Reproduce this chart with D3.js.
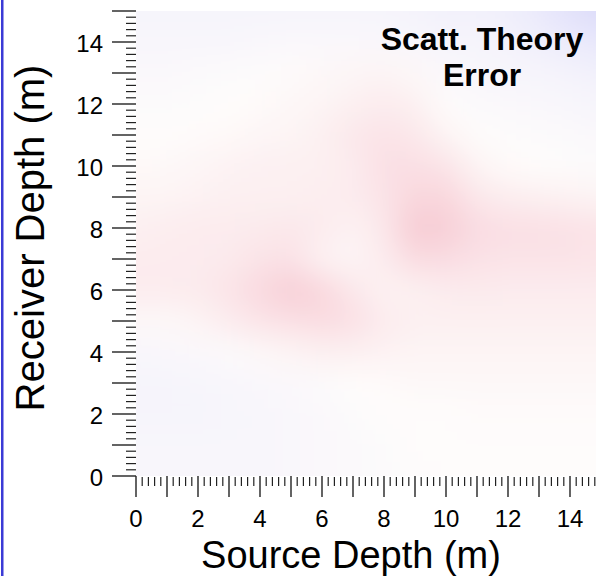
<!DOCTYPE html>
<html>
<head>
<meta charset="utf-8">
<script src="https://cdn.jsdelivr.net/npm/d3@7"></script>
<style>
  html, body { margin: 0; padding: 0; background: #fff; }
  svg { display: block; }
  text { font-family: "Liberation Sans", Arial, Helvetica, sans-serif; fill: #000; }
</style>
</head>
<body>
<script>
// grid centres, metres
var sourceDepths = [0, 1, 2, 3, 4, 5, 6, 7, 8, 9, 10, 11, 12, 13, 14, 15];
var receiverDepths = [15, 14, 13, 12, 11, 10, 9, 8, 7, 6, 5, 4, 3, 2, 1, 0];

// relative error, one row per receiver depth (top row first), <0 blue, >0 red
var errorRows = [
  [-0.2, -0.2, -0.2, -0.2, -0.2, -0.2, -0.2, -0.2, -0.2, -0.25, -0.3, -0.3, -0.35, -0.5, -0.7, -0.85],
  [-0.15, -0.15, -0.15, -0.15, -0.12, -0.1, -0.1, -0.1, -0.12, -0.15, -0.2, -0.2, -0.25, -0.35, -0.45, -0.55],
  [-0.1, -0.1, -0.08, -0.05, -0.02, 0.02, 0.05, 0.08, 0.1, 0.05, -0.1, -0.15, -0.18, -0.2, -0.25, -0.3],
  [-0.05, -0.05, -0.03, 0, 0.03, 0.06, 0.1, 0.15, 0.2, 0.15, 0, -0.08, -0.1, -0.12, -0.15, -0.2],
  [0, 0, 0.02, 0.04, 0.08, 0.1, 0.15, 0.25, 0.3, 0.25, 0.1, 0, -0.03, -0.05, -0.08, -0.1],
  [0.04, 0.05, 0.08, 0.12, 0.14, 0.15, 0.15, 0.2, 0.35, 0.35, 0.3, 0.1, 0.03, 0, -0.02, -0.04],
  [0.1, 0.1, 0.12, 0.15, 0.15, 0.15, 0.18, 0.2, 0.3, 0.45, 0.45, 0.25, 0.18, 0.15, 0.12, 0.1],
  [0.15, 0.18, 0.2, 0.2, 0.22, 0.25, 0.2, 0.12, 0.25, 0.6, 0.55, 0.38, 0.35, 0.35, 0.32, 0.3],
  [0.2, 0.2, 0.2, 0.22, 0.3, 0.32, 0.12, 0.08, 0.2, 0.4, 0.38, 0.32, 0.3, 0.3, 0.3, 0.28],
  [0.2, 0.2, 0.22, 0.3, 0.42, 0.55, 0.45, 0.25, 0.12, 0.15, 0.2, 0.22, 0.2, 0.2, 0.2, 0.2],
  [0.05, 0.05, 0.1, 0.2, 0.3, 0.35, 0.4, 0.35, 0.2, 0.15, 0.15, 0.15, 0.15, 0.15, 0.15, 0.15],
  [-0.15, -0.12, -0.1, -0.05, 0.05, 0.1, 0.15, 0.15, 0.12, 0.1, 0.1, 0.1, 0.1, 0.1, 0.1, 0.1],
  [-0.2, -0.2, -0.18, -0.15, -0.12, -0.1, -0.05, 0, 0.02, 0.05, 0.05, 0.05, 0.05, 0.05, 0.05, 0.05],
  [-0.2, -0.2, -0.2, -0.18, -0.15, -0.12, -0.1, -0.05, 0, 0, 0, 0.02, 0.02, 0.02, 0.02, 0.02],
  [-0.15, -0.15, -0.15, -0.15, -0.15, -0.12, -0.1, -0.08, -0.05, 0, 0, 0, 0, 0, 0, 0],
  [-0.15, -0.15, -0.15, -0.15, -0.15, -0.12, -0.1, -0.08, -0.05, -0.02, 0, 0, 0, 0, 0, 0]
];

var tickLabels = [0, 2, 4, 6, 8, 10, 12, 14];

var width = 596, height = 576;

var svg = d3.select("body").append("svg")
    .attr("width", width)
    .attr("height", height);

var x = d3.scaleLinear().domain([0, 15]).range([136, 601]);
var y = d3.scaleLinear().domain([0, 15]).range([476, 11]);

var color = d3.scaleLinear()
    .domain([-1, 0, 1])
    .range(["#d6d6fa", "#fefcfb", "#f2a9b8"]);

// blue frame line on the left
svg.append("rect")
    .attr("x", 1).attr("y", 0)
    .attr("width", 2.5).attr("height", height)
    .attr("fill", "#3b3bd6");

var defs = svg.append("defs");
defs.append("clipPath").attr("id", "plotClip")
  .append("rect")
    .attr("x", x(0)).attr("y", y(15))
    .attr("width", width - x(0)).attr("height", y(0) - y(15));
defs.append("filter").attr("id", "smooth")
    .attr("x", "-20%").attr("y", "-20%").attr("width", "140%").attr("height", "140%")
  .append("feGaussianBlur").attr("stdDeviation", 15);

// cells: stretch the outer ones so the blur does not fade at the edges
var cells = [];
errorRows.forEach(function (row, r) {
  row.forEach(function (v, c) {
    cells.push({ sx: sourceDepths[c], ry: receiverDepths[r], c: c, r: r, v: v });
  });
});

var plot = svg.append("g").attr("clip-path", "url(#plotClip)");
plot.append("g").attr("filter", "url(#smooth)")
  .selectAll("rect")
  .data(cells)
  .enter().append("rect")
    .attr("x", function (d) { return x(d.c === 0 ? -3 : d.sx - 0.5); })
    .attr("y", function (d) { return y(d.r === 0 ? 18 : d.ry + 0.5); })
    .attr("width", function (d) {
      var x1 = d.c === sourceDepths.length - 1 ? 18 : d.sx + 0.5;
      return x(x1) - x(d.c === 0 ? -3 : d.sx - 0.5) + 0.5;
    })
    .attr("height", function (d) {
      var y1 = d.r === receiverDepths.length - 1 ? -3 : d.ry - 0.5;
      return y(y1) - y(d.r === 0 ? 18 : d.ry + 0.5) + 0.5;
    })
    .attr("fill", function (d) { return color(d.v); });

// ticks: long every metre, short every 0.2 m, no axis line
var tickColor = "#222";
var minor = d3.range(0, 15.01, 0.2).filter(function (t) { return Math.abs(t - Math.round(t)) > 0.01; });
var major = d3.range(0, 16, 1);

var yAxis = svg.append("g");
yAxis.selectAll("line.minor").data(minor).enter().append("line")
    .attr("x1", 126).attr("x2", 136)
    .attr("y1", function (d) { return y(d); }).attr("y2", function (d) { return y(d); })
    .attr("stroke", tickColor).attr("stroke-width", 1.2);
yAxis.selectAll("line.major").data(major).enter().append("line")
    .attr("x1", 112).attr("x2", 136)
    .attr("y1", function (d) { return y(d); }).attr("y2", function (d) { return y(d); })
    .attr("stroke", tickColor).attr("stroke-width", 1.4);
yAxis.selectAll("text").data(tickLabels).enter().append("text")
    .attr("x", 103)
    .attr("y", function (d) { return y(d) + 10; })
    .attr("text-anchor", "end")
    .style("font-size", "24px")
    .text(function (d) { return d; });

var xAxis = svg.append("g");
xAxis.selectAll("line.minor").data(minor).enter().append("line")
    .attr("y1", 477).attr("y2", 486)
    .attr("x1", function (d) { return x(d); }).attr("x2", function (d) { return x(d); })
    .attr("stroke", tickColor).attr("stroke-width", 1.2);
xAxis.selectAll("line.major").data(major).enter().append("line")
    .attr("y1", 476).attr("y2", 497)
    .attr("x1", function (d) { return x(d); }).attr("x2", function (d) { return x(d); })
    .attr("stroke", tickColor).attr("stroke-width", 1.4);
xAxis.selectAll("text").data(tickLabels).enter().append("text")
    .attr("x", function (d) { return x(d); })
    .attr("y", 527)
    .attr("text-anchor", "middle")
    .style("font-size", "24px")
    .text(function (d) { return d; });

// axis titles
svg.append("text")
    .attr("x", 351).attr("y", 568)
    .attr("text-anchor", "middle")
    .style("font-size", "38px")
    .text("Source Depth (m)");

svg.append("text")
    .attr("transform", "translate(44,238) rotate(-90)")
    .attr("text-anchor", "middle")
    .style("font-size", "40px")
    .text("Receiver Depth (m)");

// panel title
svg.selectAll("text.title")
    .data(["Scatt. Theory", "Error"])
    .enter().append("text")
    .attr("x", 482)
    .attr("y", function (d, i) { return 50 + i * 36; })
    .attr("text-anchor", "middle")
    .style("font-size", "32px")
    .style("font-weight", "bold")
    .text(function (d) { return d; });
</script>
</body>
</html>
